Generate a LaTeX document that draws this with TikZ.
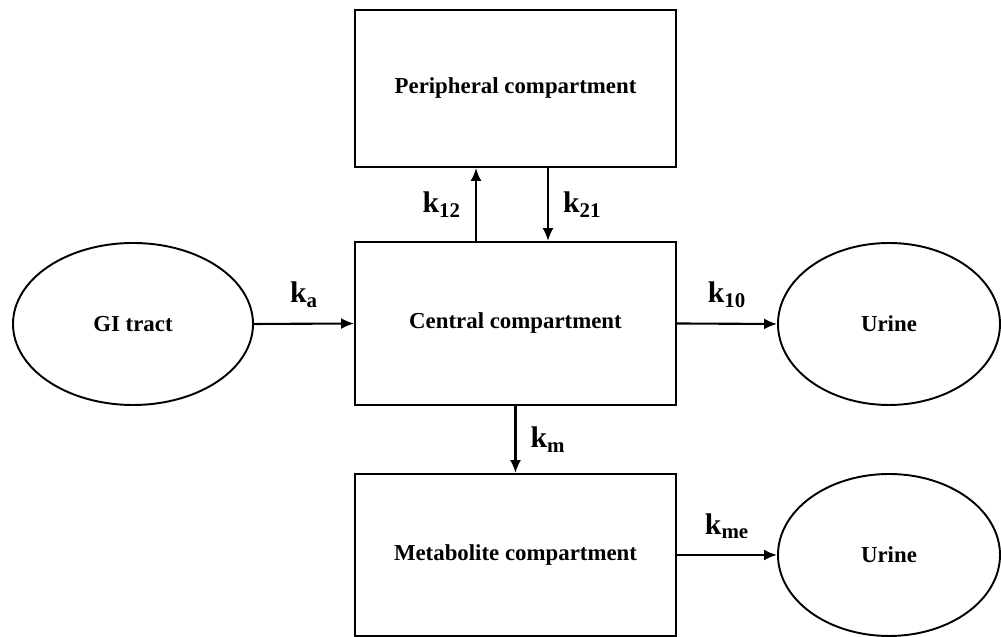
\documentclass[tikz,border=0pt]{standalone}
\usepackage{fontspec}
\setmainfont{Liberation Serif}
\usetikzlibrary{arrows.meta,shapes.geometric}

\tikzset{
  compbox/.style={draw, line width=1.1pt, minimum width=6.42cm, inner sep=0pt, font=\bfseries\fontsize{13}{15}\selectfont},
  organ/.style={draw, ellipse, line width=1.1pt, inner sep=0pt, font=\bfseries\fontsize{13}{15}\selectfont},
  flow/.style={line width=1.2pt, -{Latex[length=2.6mm,width=2.2mm]}},
  rate/.style={font=\bfseries\fontsize{17}{19}\selectfont, inner sep=0pt}
}

\begin{document}
\begin{tikzpicture}

\useasboundingbox (0,0) rectangle (20.02,12.74);

\node[compbox, minimum height=3.14cm] (periph) at (10.31,10.97) {Peripheral compartment};
\node[compbox, minimum height=3.26cm] (central) at (10.31,6.27) {Central compartment};
\node[compbox, minimum height=3.24cm] (metab) at (10.31,1.64) {Metabolite compartment};

\node[organ, minimum width=4.8cm, minimum height=3.24cm] (gi) at (2.66,6.26) {GI tract};
\node[organ, minimum width=4.44cm, minimum height=3.24cm] (urine1) at (17.78,6.26) {Urine};
\node[organ, minimum width=4.44cm, minimum height=3.24cm] (urine2) at (17.78,1.64) {Urine};

\coordinate (c1) at (9.52,0);
\coordinate (c2) at (10.96,0);
\draw[flow] (central.north -| c1) -- (periph.south -| c1) node[rate, midway, left=0.28cm] {k\textsubscript{12}};
\draw[flow] (periph.south -| c2) -- (central.north -| c2) node[rate, midway, right=0.28cm] {k\textsubscript{21}};

\draw[flow] (gi.east) -- (central.west) node[rate, midway, above=0.3cm] {k\textsubscript{a}};
\draw[flow] (central.east) -- (urine1.west) node[rate, midway, above=0.3cm] {k\textsubscript{10}};
\draw[flow] (central.south) -- (metab.north) node[rate, midway, right=0.28cm] {k\textsubscript{m}};
\draw[flow] (metab.east) -- (urine2.west) node[rate, midway, above=0.3cm] {k\textsubscript{me}};

\end{tikzpicture}
\end{document}
